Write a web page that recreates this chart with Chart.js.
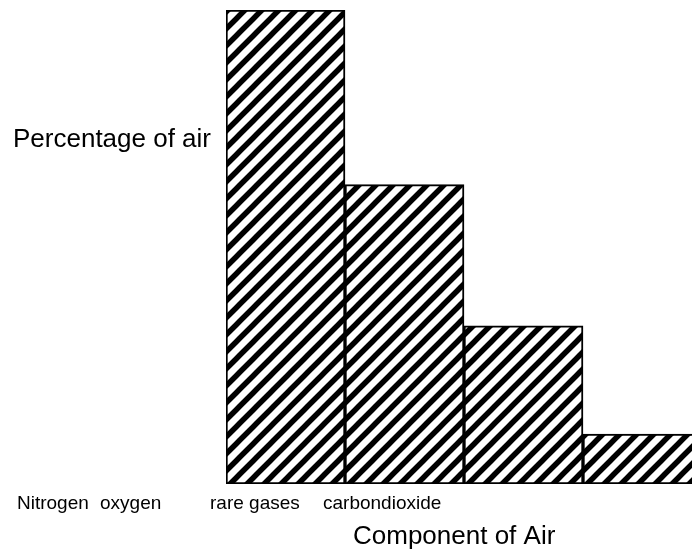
<!DOCTYPE html>
<html>
<head>
<meta charset="utf-8">
<script src="https://cdn.jsdelivr.net/npm/chart.js@4/dist/chart.umd.min.js"></script>
<style>
  html, body { margin: 0; padding: 0; background: #fff; overflow: hidden; }
  #wrap { width: 710px; height: 556px; }
</style>
</head>
<body>
<div id="wrap"><canvas id="airChart"></canvas></div>
<script>
const categories = ["Nitrogen", "oxygen", "rare gases", "carbondioxide"];
const percentages = [95, 60, 31.7, 10];
const yMax = 95;
const xTitle = "Component of Air";
const yTitle = "Percentage of air";

const FONT = '"Liberation Sans", Arial, sans-serif';

// diagonal hatch used for every bar
function hatch() {
  const p = 17;
  const c = document.createElement("canvas");
  c.width = p; c.height = p;
  const g = c.getContext("2d");
  g.fillStyle = "#fff";
  g.fillRect(0, 0, p, p);
  g.strokeStyle = "#000";
  g.lineWidth = 5.5;
  g.beginPath();
  for (let k = -1; k <= 1; k++) {
    // run each stripe past the tile corners so tiles join without gaps
    g.moveTo(k * p - p, 2 * p);
    g.lineTo(k * p + 2 * p, -p);
  }
  g.stroke();
  return g.createPattern(c, "repeat");
}

// the labels in the original sit off the bars, so they are placed by hand
const textPlugin = {
  id: "textPlugin",
  afterDraw(chart) {
    const ctx = chart.ctx;
    ctx.save();
    ctx.fillStyle = "#000";
    ctx.textBaseline = "alphabetic";
    ctx.textAlign = "left";
    ctx.font = "19px " + FONT;
    const labelX = [17, 100, 210, 323];
    categories.forEach((c, i) => ctx.fillText(c, labelX[i], 509));
    ctx.font = "26px " + FONT;
    ctx.fillText(xTitle, 353, 544);
    ctx.fillText(yTitle, 13, 147);
    ctx.restore();
  }
};

new Chart(document.getElementById("airChart"), {
  type: "bar",
  data: {
    labels: categories,
    datasets: [{
      data: percentages,
      backgroundColor: hatch(),
      borderColor: "#000",
      borderWidth: 2,
      borderSkipped: false,
      categoryPercentage: 1,
      barPercentage: 1
    }]
  },
  options: {
    responsive: true,
    maintainAspectRatio: false,
    animation: false,
    layout: { padding: { left: 226, top: 10, right: 8, bottom: 72 } },
    plugins: { legend: { display: false }, tooltip: { enabled: false } },
    scales: {
      x: { display: false },
      y: { display: false, min: 0, max: yMax }
    }
  },
  plugins: [textPlugin]
});
</script>
</body>
</html>
